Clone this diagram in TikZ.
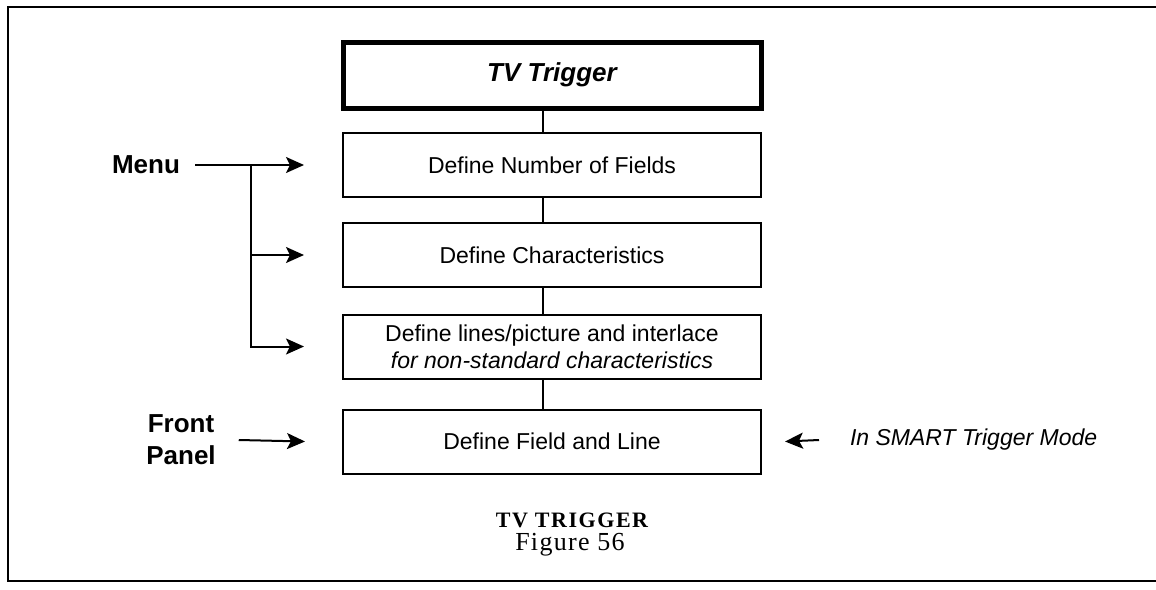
\documentclass[tikz,border=0pt]{standalone}
\usepackage{fontspec}
\setmainfont{Liberation Serif}
\setsansfont{Liberation Sans}
\newfontfamily\titulofont[LetterSpace=7]{Liberation Serif}
\newfontfamily\figurafont[LetterSpace=5]{Liberation Serif}
\usetikzlibrary{arrows.meta, positioning, calc}

\begin{document}
\begin{tikzpicture}[
                x=0.5pt, y=-0.5pt,
                paso/.style={
                    rectangle,
                    draw,
                    line width=1pt,
                    minimum width=209pt,
                    minimum height=32pt,
                    align=center,
                    font=\sffamily\fontsize{11.5}{13.5}\selectfont,
                    inner sep=2pt
                },
                etiqueta/.style={
                    align=center,
                    font=\sffamily\bfseries\fontsize{13}{16}\selectfont
                },
                flecha/.style={line width=1pt, -{Stealth[length=9pt, width=8pt, inset=2pt]}},
                enlace/.style={line width=1pt}
            ]
                \useasboundingbox (0,0) rectangle (1156,589);
                % marco
                \draw[line width=1pt] (1156,7) -- (8,7) -- (8,581) -- (1156,581);

                % pasos
                \node[paso, line width=2.5pt, minimum height=33pt, font=\sffamily\bfseries\itshape\fontsize{13}{16}\selectfont] (tv) at (552,75) {TV Trigger};
                \node[paso] (num) at (552,165) {Define Number of Fields};
                \node[paso] (car) at (552,255) {Define Characteristics};
                \node[paso] (lin) at (552,346.5) {Define lines/picture and interlace\\\itshape for non-standard characteristics};
                \node[paso] (campo) at (552,441.5) {Define Field and Line};

                \foreach \a/\b in {tv/num, num/car, car/lin, lin/campo}
                    \draw[enlace] ([xshift=-4.5pt]\a.south) -- ([xshift=-4.5pt]\b.north);

                % entradas
                \node[etiqueta] (menu) at (146,165) {Menu};
                \node[etiqueta] (panel) at (181,440) {Front\\Panel};
                \node[anchor=west, font=\sffamily\itshape\fontsize{11.5}{13.5}\selectfont] (modo) at (843,440) {In SMART Trigger Mode};

                \coordinate (m1) at ([xshift=-19pt]num.west);
                \coordinate (m2) at ([xshift=-19pt]car.west);
                \coordinate (m3) at ([xshift=-19pt]lin.west);
                \coordinate (ramal) at ([xshift=-26.5pt]m1);
                \coordinate (f1) at ([xshift=-18.5pt]campo.west);
                \coordinate (s1) at ([xshift=11.5pt]campo.east);

                \draw[flecha] ([xshift=4pt]menu.east) -- (m1);
                \draw[flecha] (ramal) |- (m3);
                \draw[flecha] (ramal |- m2) -- (m2);
                \draw[flecha] ([xshift=8pt]panel.east) -- (f1);
                \draw[flecha] ([xshift=-12pt]modo.west) -- (s1);

                % pie
                \node[font=\titulofont\bfseries\fontsize{11}{13}\selectfont] (titulo) at (572,520) {TV TRIGGER};
                \node[font=\figurafont\fontsize{13}{15}\selectfont] (figura) at (570,545) {Figure 56};
            \end{tikzpicture}
\end{document}
